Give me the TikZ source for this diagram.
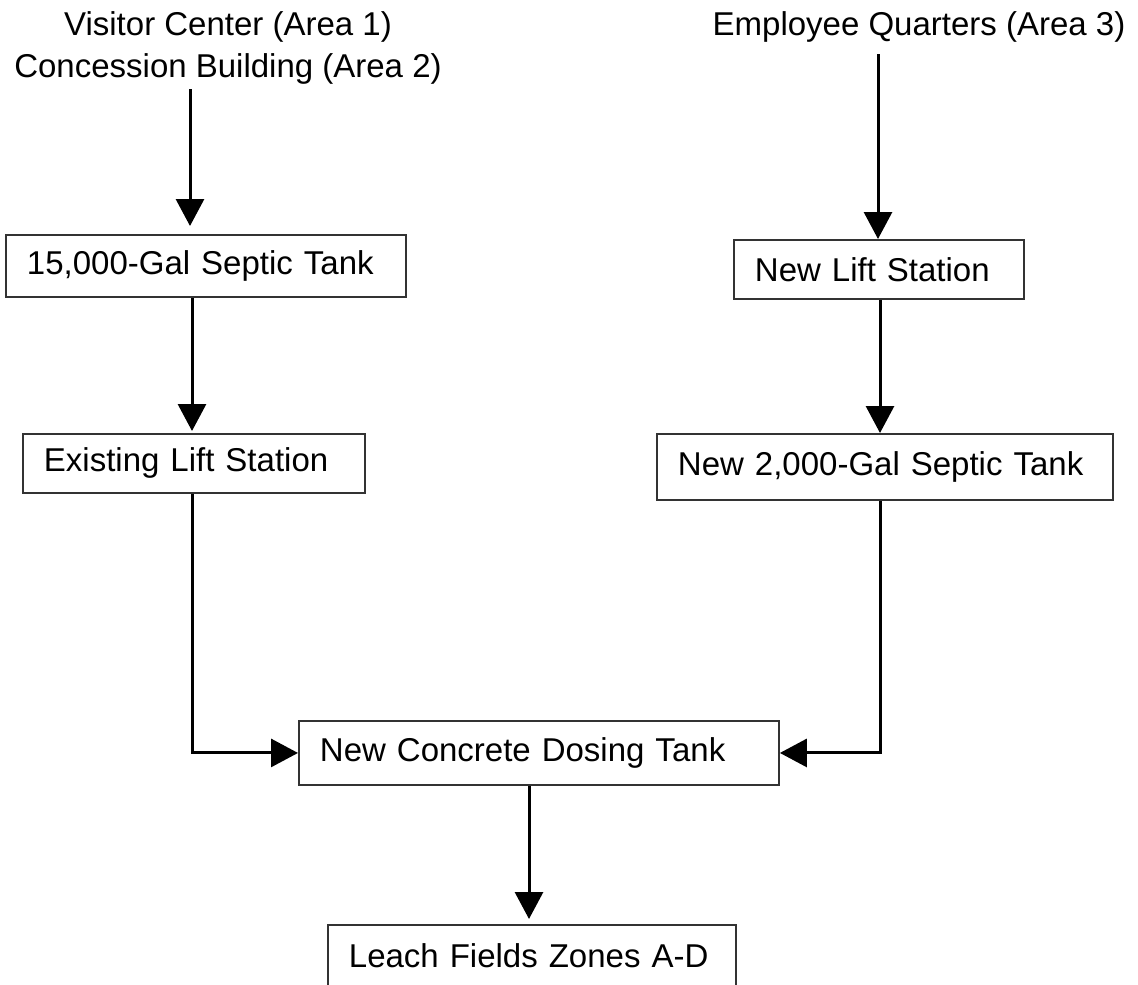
\documentclass[tikz,border=0pt]{standalone}
\usepackage{fontspec}
\setmainfont{Liberation Sans}
\usetikzlibrary{arrows.meta}
\begin{document}
\begin{tikzpicture}[x=1pt,y=-1pt,
  box/.style={draw=black!80,line width=1.9pt,rectangle,anchor=north west,
    inner xsep=21pt,inner ysep=0pt,align=left,font=\fontsize{33}{40}\selectfont},
  flow/.style={line width=3pt,-{Triangle[width=28pt,length=27pt]}},
  lbl/.style={align=center,font=\fontsize{33}{42}\selectfont,inner sep=0pt}]
\useasboundingbox (0,0) rectangle (1138,985);
% text sources
\node[lbl,anchor=north] (t1) at (228,11) {Visitor Center (Area 1)\\Concession Building (Area 2)};
\node[lbl,anchor=base] (t3) at (919,35) {Employee Quarters (Area 3)};
% boxes
\node[box,minimum width=400pt,minimum height=62pt,text width=358pt] (b1) at (5,234) {15,000-Gal Septic Tank};
\node[box,minimum width=342pt,minimum height=59pt,text width=300pt] (b2) at (22,433) {Existing Lift Station};
\node[box,minimum width=290pt,minimum height=59pt,text width=248pt] (b3) at (733,239) {New Lift Station};
\node[box,minimum width=456pt,minimum height=66pt,text width=414pt] (b4) at (656,433) {New 2,000-Gal Septic Tank};
\node[box,minimum width=480pt,minimum height=64pt,text width=438pt] (b5) at (298,720) {New Concrete Dosing Tank};
\node[box,minimum width=408pt,minimum height=62pt,text width=366pt] (b6) at (327,924) {Leach Fields Zones A-D};
% x positions of connectors
\coordinate (a1) at (190,0);
\coordinate (a2) at (192,0);
\coordinate (a3) at (878,0);
\coordinate (a4) at (880,0);
\coordinate (a5) at (529,0);
% connectors
\draw[flow,shorten <=5pt,shorten >=8pt] (t1.south -| a1) -- (b1.north -| a1);
\draw[flow,shorten >=2pt] (b1.south -| a2) -- (b2.north -| a2);
\draw[flow] (b2.south -| a2) |- (b5.west);
\draw[flow,shorten <=12pt] (t3.south -| a3) -- (b3.north -| a3);
\draw[flow] (b3.south -| a4) -- (b4.north -| a4);
\draw[flow] (b4.south -| a4) |- (b5.east);
\draw[flow,shorten >=5pt] (b5.south -| a5) -- (b6.north -| a5);
\end{tikzpicture}
\end{document}
